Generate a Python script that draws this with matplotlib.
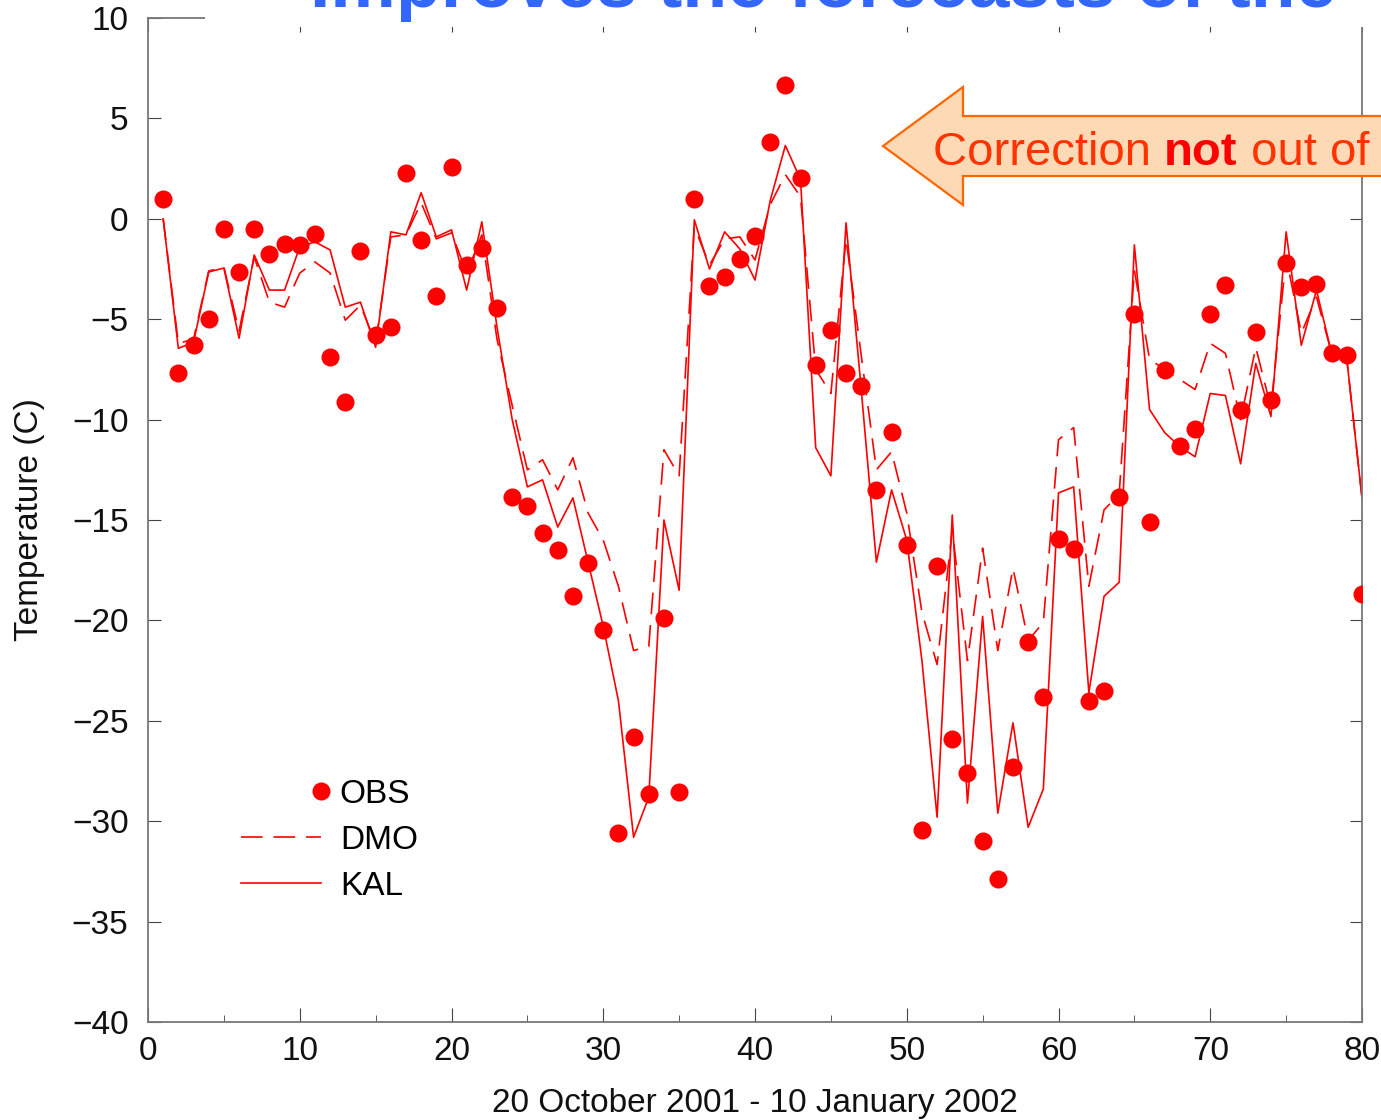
import matplotlib
matplotlib.use("Agg")
import matplotlib.pyplot as plt
import numpy as np
from matplotlib.patches import Polygon, Rectangle
from matplotlib.legend_handler import HandlerLine2D
from matplotlib.text import Annotation

plt.rcParams['font.family'] = ['Liberation Sans', 'DejaVu Sans']

days = np.arange(1, 81)

obs = [1.0, -7.7, -6.3, -5.0, -0.5, -2.65, -0.5, -1.75, -1.25, -1.3,
       -0.75, -6.9, -9.1, -1.6, -5.8, -5.4, 2.3, -1.05, -3.85, 2.6,
       -2.3, -1.45, -4.45, -13.85, -14.3, -15.65, -16.5, -18.8, -17.15, -20.5,
       -30.6, -25.8, -28.65, -19.9, -28.55, 1.0, -3.35, -2.9, -2.0, -0.85,
       3.8, 6.65, 2.05, -7.3, -5.55, -7.7, -8.35, -13.5, -10.6, -16.25,
       -30.45, -17.3, -25.9, -27.6, -31.0, -32.9, -27.3, -21.1, -23.8, -15.95,
       -16.45, -24.0, -23.5, -13.85, -4.75, -15.1, -7.55, -11.3, -10.45, -4.75,
       -3.3, -9.5, -5.65, -9.0, -2.2, -3.4, -3.25, -6.7, -6.8, -18.7]

dmo = [0.0, -6.2, -6.0, -2.6, -2.4, -5.6, -1.9, -4.15, -4.4, -2.7,
       -2.15, -2.7, -5.05, -4.3, -6.2, -0.9, -0.8, 0.8, -1.0, -0.7,
       -2.7, -0.8, -6.0, -9.3, -12.5, -12.0, -13.5, -11.9, -14.65, -16.0,
       -18.3, -21.5, -21.3, -11.5, -12.8, -0.4, -2.3, -1.0, -0.9, -2.05,
       0.7, 2.2, 1.1, -7.5, -8.7, -1.0, -6.8, -12.5, -11.6, -14.65,
       -19.6, -22.2, -15.5, -22.0, -16.4, -21.5, -17.4, -21.0, -20.1, -11.0,
       -10.4, -18.3, -14.5, -13.7, -2.55, -7.0, -7.5, -8.0, -8.5, -6.2,
       -6.7, -10.0, -6.4, -9.4, -1.9, -5.7, -3.9, -6.7, -7.0, -13.9]

kal = [0.0, -6.45, -6.15, -2.65, -2.45, -5.95, -1.8, -3.55, -3.55, -1.4,
       -1.15, -1.55, -4.4, -4.15, -6.4, -0.65, -0.8, 1.3, -0.9, -0.55,
       -3.55, -0.15, -5.4, -10.0, -13.35, -13.0, -15.35, -13.9, -17.1, -20.3,
       -24.0, -30.8, -28.8, -15.0, -18.5, -0.05, -2.5, -0.65, -1.5, -3.05,
       0.9, 3.65, 1.95, -11.4, -12.8, -0.2, -8.5, -17.1, -13.5, -16.0,
       -22.0, -29.8, -14.75, -29.1, -19.8, -29.6, -25.1, -30.3, -28.4, -13.65,
       -13.35, -23.6, -18.8, -18.1, -1.3, -9.5, -10.65, -11.35, -11.85, -8.7,
       -8.8, -12.2, -7.2, -9.85, -0.65, -6.3, -3.55, -6.7, -7.0, -13.9]

W, H = 1381, 1120
fig = plt.figure(figsize=(W / 100, H / 100), dpi=100)
ax = fig.add_axes([148 / W, 1 - 1022 / H, 1214 / W, 1004 / H])

red = '#ff0000'
ax.plot(days, dmo, color=red, lw=1.2, linestyle=(0, (13, 6.5)), label='DMO', zorder=2)
ax.plot(days, kal, color=red, lw=1.2, label='KAL', zorder=2)
ax.plot(days, obs, 'o', color=red, ms=13, mec='none', label='OBS', zorder=3)

ax.set_xlim(0, 80)
ax.set_ylim(-40, 10)
ax.set_xticks(range(0, 81, 10))
ax.set_xticks(range(0, 81, 5), minor=True)
ax.set_yticks(range(-40, 11, 5))

fs = 24
ax.tick_params(axis='both', which='both', direction='in', top=True, right=True,
               colors='#444444', labelcolor='#111111', labelsize=fs)
ax.tick_params(axis='x', which='major', length=10, pad=10)
ax.tick_params(axis='x', which='minor', length=5)
ax.tick_params(axis='y', which='major', length=9, pad=14)
for s in ax.spines.values():
    s.set_color('#777777')
    s.set_linewidth(1.3)

ax.set_xlabel('20 October 2001 - 10 January 2002', fontsize=fs, labelpad=15, color='#111111')
ax.set_ylabel('Temperature (C)', fontsize=fs, labelpad=19, color='#111111')


class RightMarker(HandlerLine2D):
    # put the single key marker at the right end of the sample, gnuplot style
    def get_xdata(self, legend, xdescent, ydescent, width, height, fontsize):
        xr = -xdescent + width
        return [xr - 1, xr + 1], [xr]


h, l = ax.get_legend_handles_labels()
order = [2, 0, 1]
ax.legend([h[i] for i in order], [l[i] for i in order], loc='upper left',
          bbox_to_anchor=(0.077, 0.242), frameon=False, fontsize=fs,
          borderpad=0, borderaxespad=0, handlelength=2.4, handletextpad=0.55,
          labelspacing=0.45, handler_map={h[2]: RightMarker()})

# white strip hiding the top border behind the slide title
fig.add_artist(Rectangle((205 / W, 1 - 27 / H), 1 - 205 / W, 27 / H,
                         transform=fig.transFigure, facecolor='white',
                         edgecolor='none', zorder=5))
fig.text(310 / W, 1 - 7 / H, 'Improves the forecasts of the', fontsize=53,
         fontweight='bold', color='#3366ff', va='baseline', ha='left', zorder=6)

# block arrow callout
pts = [(883, 146), (963, 87), (963, 116), (1400, 116), (1400, 176),
       (963, 176), (963, 205)]
arrow = Polygon([(x / W, 1 - y / H) for x, y in pts], closed=True,
                transform=fig.transFigure, facecolor='#fdd9b5',
                edgecolor='#ff6600', lw=1.6, zorder=6)
fig.add_artist(arrow)
t1 = fig.text(933 / W, 1 - 165 / H, 'Correction ', fontsize=34,
              color='#ff3300', va='baseline', zorder=7)
t2 = Annotation('not', xy=(1, 0), xycoords=t1, fontsize=34, fontweight='bold',
                color=red, va='bottom', ha='left', zorder=7)
fig.add_artist(t2)
t3 = Annotation(' out of', xy=(1, 0), xycoords=t2, fontsize=34,
                color='#ff3300', va='bottom', ha='left', zorder=7)
fig.add_artist(t3)

plt.savefig('out.png', dpi=100)
